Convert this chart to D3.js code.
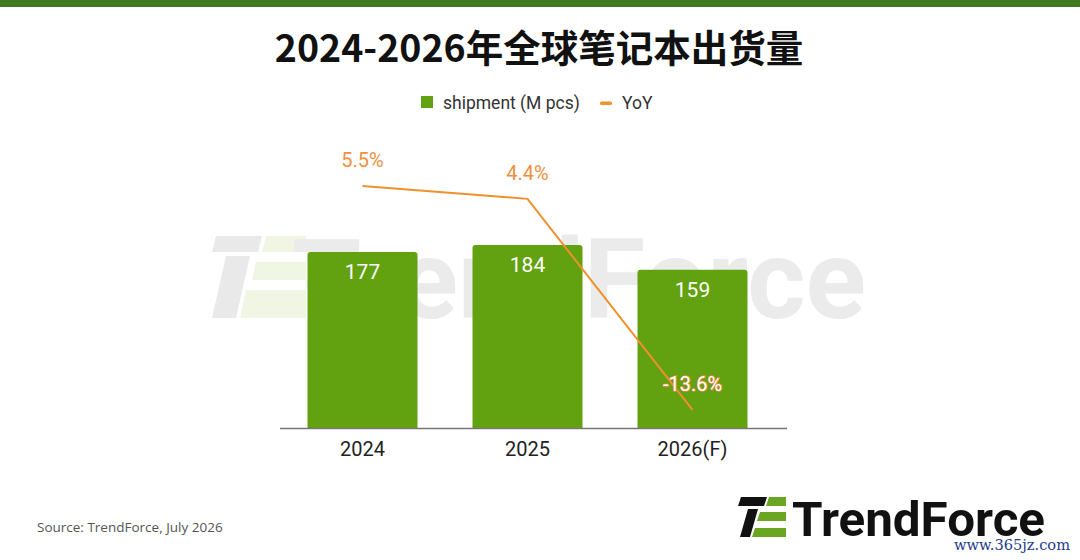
<!DOCTYPE html>
<html><head><meta charset="utf-8">
<script src="https://cdn.jsdelivr.net/npm/d3@7"></script>
<style>html,body{margin:0;padding:0;background:#fff;}svg{display:block;}</style>
</head><body>
<script>
const categories = ["2024", "2025", "2026(F)"];
const shipment = [177, 184, 159];
const yoy = [5.5, 4.4, -13.6];
const yoyLabels = ["5.5%", "4.4%", "-13.6%"];
const legendLabels = ["shipment (M pcs)", "YoY"];
const title = "2024-2026年全球笔记本出货量";
const source = "Source: TrendForce, July 2026";

const W = 1080, H = 560;
const svg = d3.select("body").append("svg").attr("width", W).attr("height", H);
svg.append("rect").attr("width", W).attr("height", H).attr("fill", "#fff");
svg.append("rect").attr("x", 0).attr("y", 0).attr("width", W).attr("height", 7).attr("fill", "#3f7a1f");

svg.append("text").attr("x", 539).attr("y", 62).attr("text-anchor", "middle")
  .attr("font-family", "'Noto Sans CJK SC', 'Noto Sans', sans-serif").attr("font-weight", 700)
  .attr("font-size", 37.5).attr("fill", "#111").text(title);

// legend
const lg = svg.append("g").attr("font-family", "Roboto, 'Liberation Sans', sans-serif").attr("font-size", 17.5).attr("fill", "#333");
lg.append("rect").attr("x", 421).attr("y", 96).attr("width", 12).attr("height", 12).attr("fill", "#62a10f");
lg.append("text").attr("x", 443).attr("y", 109).text(legendLabels[0]);
lg.append("rect").attr("x", 600).attr("y", 101.5).attr("width", 12).attr("height", 3.5).attr("rx", 1.5).attr("fill", "#f0922e");
lg.append("text").attr("x", 622).attr("y", 109).text(legendLabels[1]);

// watermark
const wm = svg.append("g");
wm.append("path").attr("d", "M216,236 L262,236 L258,252 L212,252 Z M226,256 L250,256 L236,318 L212,318 Z").attr("fill", "#e9e9e9");
wm.append("path").attr("d", "M266,236 L306,236 L306,252 L262,252 Z M256,262 L306,262 L306,280 L252,280 Z M246,290 L306,290 L306,318 L240,318 Z").attr("fill", "#f1f5e4");
wm.append("text").attr("x", 292).attr("y", 318).attr("font-family", "Roboto, 'Liberation Sans', sans-serif")
  .attr("font-weight", 700).attr("font-size", 112).attr("fill", "#ebebeb")
  .attr("textLength", 574).attr("lengthAdjust", "spacingAndGlyphs").text("TrendForce");

// scales
const x = d3.scaleBand().domain(categories).range([280, 775]).paddingInner(0.3333).paddingOuter(0.1667);
const y = d3.scaleLinear().domain([0, 200]).range([428, 229]);
const y2 = d3.scaleLinear().domain([-15, 10]).range([426.4, 133.2]);

// bars
const bw = x.bandwidth();
svg.append("g").selectAll("path").data(shipment).join("path")
  .attr("d", (d, i) => {
    const x0 = x(categories[i]), y0 = y(d), y1 = y(0), r = 3;
    return `M${x0},${y1} L${x0},${y0 + r} Q${x0},${y0} ${x0 + r},${y0} L${x0 + bw - r},${y0} Q${x0 + bw},${y0} ${x0 + bw},${y0 + r} L${x0 + bw},${y1} Z`;
  })
  .attr("fill", "#62a10f");

svg.append("g").selectAll("text").data(shipment).join("text")
  .attr("x", (d, i) => x(categories[i]) + bw / 2)
  .attr("y", d => y(d) + 27)
  .attr("text-anchor", "middle").attr("font-family", "Roboto, 'Liberation Sans', sans-serif")
  .attr("font-size", 21).attr("fill", "#fff").text(d => d);

// axis
const xAxis = d3.axisBottom(x).tickSize(0).tickPadding(14);
const ag = svg.append("g").attr("transform", "translate(0,428)").call(xAxis);
ag.select(".domain").remove();
ag.append("line").attr("x1", 280).attr("x2", 787).attr("y1", 0.5).attr("y2", 0.5).attr("stroke", "#777").attr("stroke-width", 1.3);
ag.selectAll(".tick text").attr("font-family", "Roboto, 'Liberation Sans', sans-serif").attr("font-size", 20).attr("fill", "#222");

// line
const line = d3.line().x((d, i) => x(categories[i]) + bw / 2).y(d => y2(d));
svg.append("path").datum(yoy).attr("d", line).attr("fill", "none").attr("stroke", "#f0902c").attr("stroke-width", 2);

svg.append("g").selectAll("text").data(yoy).join("text")
  .attr("x", (d, i) => x(categories[i]) + bw / 2)
  .attr("y", d => y2(d) - 19)
  .attr("text-anchor", "middle").attr("font-family", "Roboto, 'Liberation Sans', sans-serif")
  .attr("font-size", 20)
  .attr("fill", d => d < 0 ? "#fff" : "#ee9040")
  .attr("stroke", d => d < 0 ? "#ee8a48" : "none")
  .attr("stroke-width", 1.4).attr("paint-order", "stroke")
  .text((d, i) => yoyLabels[i]);

// source
svg.append("text").attr("x", 37).attr("y", 532).attr("font-family", "'Open Sans', 'Noto Sans', sans-serif")
  .attr("font-size", 13.5).attr("fill", "#555").text(source);

// bottom-right logo
const lo = svg.append("g");
lo.append("path").attr("d", "M741,497 L767,497 L764,506 L738,506 Z M748,509 L758,509 L750,537 L740,537 Z").attr("fill", "#111");
lo.append("path").attr("d", "M769,497 L786,497 L786,506 L766,506 Z M760,512 L786,512 L786,521 L757,521 Z M755,528 L786,528 L786,537 L752,537 Z").attr("fill", "#6aa621");
lo.append("text").attr("x", 792).attr("y", 536).attr("font-family", "Roboto, 'Liberation Sans', sans-serif")
  .attr("font-weight", 700).attr("font-size", 48).attr("fill", "#111")
  .attr("textLength", 253).attr("lengthAdjust", "spacingAndGlyphs").text("TrendForce");
lo.append("text").attr("x", 954).attr("y", 550).attr("font-family", "'DejaVu Serif', 'Liberation Serif', serif")
  .attr("font-size", 15).attr("fill", "#1e3c8c")
  .attr("textLength", 116).attr("lengthAdjust", "spacingAndGlyphs").text("www.365jz.com");
</script>
</body></html>
